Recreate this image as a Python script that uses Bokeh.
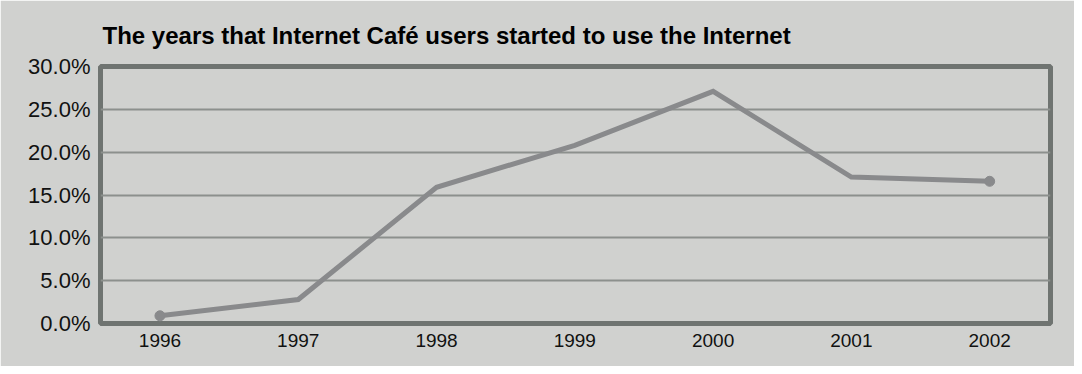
from bokeh.plotting import figure
from bokeh.models import FixedTicker, NumeralTickFormatter, Range1d
from bokeh.embed import file_html
from bokeh.resources import INLINE

# ---- data ----
years = [1996, 1997, 1998, 1999, 2000, 2001, 2002]
share = [0.009, 0.028, 0.159, 0.208, 0.271, 0.171, 0.166]
y_ticks = [0.0, 0.05, 0.10, 0.15, 0.20, 0.25, 0.30]
title_text = "The years that Internet Café users started to use the Internet"

BG = "#d0d1cf"
FRAME = "#6f7471"
GRID = "#8c908d"
LINE = "#898a8c"
FONT = "Liberation Sans"

p = figure(width=1074, height=366, output_backend="svg", toolbar_location=None,
           x_range=Range1d(1995.57, 2002.44), y_range=Range1d(0, 0.30),
           min_border_left=100, min_border_right=24, min_border_top=66,
           min_border_bottom=43)

p.background_fill_color = BG
p.border_fill_color = BG
p.outline_line_color = FRAME
p.outline_line_width = 5

p.title.text = title_text
p.title.text_font = FONT
p.title.text_font_size = "24px"
p.title.text_font_style = "bold"
p.title.text_color = "#000000"
p.title.align = "left"
p.title.offset = 2
p.title.standoff = 36

p.xgrid.visible = False
p.ygrid.grid_line_color = GRID
p.ygrid.grid_line_width = 2
p.yaxis.ticker = FixedTicker(ticks=y_ticks)
p.yaxis.formatter = NumeralTickFormatter(format="0.0%")
p.xaxis.ticker = FixedTicker(ticks=years)

for ax in (p.xaxis, p.yaxis):
    ax.axis_line_color = None
    ax.major_tick_line_color = None
    ax.minor_tick_line_color = None
    ax.major_label_text_font = FONT
    ax.major_label_text_color = "#111111"

p.yaxis.major_label_text_font_size = "22px"
p.yaxis.major_label_standoff = 4
p.xaxis.major_label_text_font_size = "19px"
p.xaxis.major_label_standoff = 4

p.line(years, share, line_color=LINE, line_width=5, line_join="miter")
p.scatter([years[0], years[-1]], [share[0], share[-1]], size=10,
          fill_color=LINE, line_color=LINE)

open("out.html", "w").write(file_html(p, INLINE))
